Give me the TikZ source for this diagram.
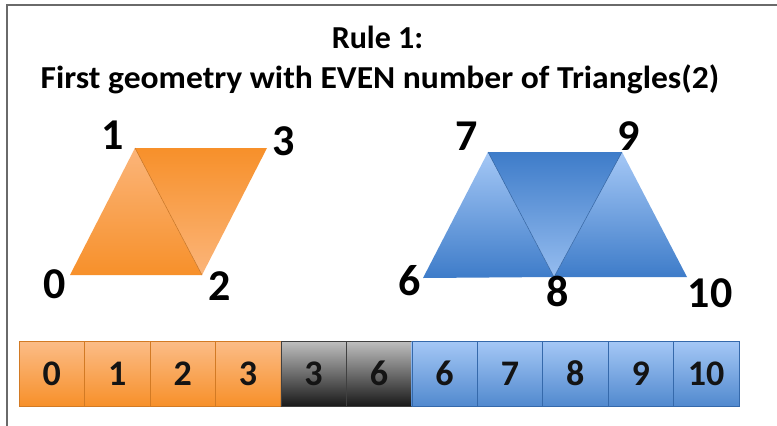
\documentclass[tikz,border=0pt]{standalone}
\usepackage{fontspec}
\setmainfont{Carlito}
\begin{document}
\begin{tikzpicture}[x=1pt,y=-1pt,
  lbl/.style={font=\fontsize{44}{44}\selectfont\bfseries, inner sep=0pt},
  celltxt/.style={font=\fontsize{36}{36}\selectfont\bfseries, inner sep=0pt, text=black!92},
  ttl/.style={font=\fontsize{32}{32}\selectfont\bfseries, inner sep=0pt, anchor=base},
]
\definecolor{orL}{HTML}{FBB57A}
\definecolor{orD}{HTML}{F7902A}
\definecolor{blL}{HTML}{A5C8F6}
\definecolor{blD}{HTML}{3E7CC9}
\definecolor{bdr}{HTML}{6A6A6A}
\useasboundingbox (0,0) rectangle (777,426);
\fill[white] (0,0) rectangle (777,426);
% frame
\draw[bdr, line width=2pt] (7,426) -- (7,5) -- (777,5);
% title
\node[ttl] (t1) at (377.5,48) {Rule 1:};
\node[ttl, xscale=1.05] (t2) at (380,88) {First geometry with EVEN number of Triangles(2)};
% left parallelogram
\coordinate (v0) at (70,275);
\coordinate (v1) at (135,148);
\coordinate (v2) at (202,275);
\coordinate (v3) at (267,148);
\path[top color=orL, bottom color=orD] (v0) -- (v1) -- (v2) -- cycle;
\path[top color=orD, bottom color=orL] (v1) -- (v3) -- (v2) -- cycle;
\draw[orD!80!black, line width=0.5pt] (v1) -- (v2);
\node[lbl] (l0) at (55,284) {0};
\node[lbl] (l1) at (113,135.5) {1};
\node[lbl] (l2) at (220,286) {2};
\node[lbl] (l3) at (283.5,141.5) {3};
% right trapezoid
\coordinate (v6) at (423,278);
\coordinate (v7) at (488,152);
\coordinate (v8) at (554,277);
\coordinate (v9) at (622,152);
\coordinate (v10) at (687,277);
\path[top color=blL, bottom color=blD] (v6) -- (v7) -- (v8) -- cycle;
\path[top color=blL, bottom color=blD] (v8) -- (v9) -- (v10) -- cycle;
\path[top color=blD, bottom color=blL!85!blD] (v7) -- (v9) -- (v8) -- cycle;
\draw[blD!80!black, line width=0.5pt] (v7) -- (v8) -- (v9);
\node[lbl] (l6) at (409.5,281) {6};
\node[lbl] (l7) at (466.5,136.5) {7};
\node[lbl] (l8) at (557.5,291) {8};
\node[lbl] (l9) at (628.5,136.5) {9};
\node[lbl] (l10) at (710,293.5) {10};
% bar
\def\cw{65.45}
\foreach \t [count=\i from 0] in {0,1,2,3}{
  \path[top color=orL!90!white, bottom color=orD, draw=orD!85!black, line width=0.4pt]
    ({19+\i*\cw},341) rectangle ({19+(\i+1)*\cw},406);
  \node[celltxt] (c\i) at ({19+(\i+0.5)*\cw},373.5) {\t};
}
\foreach \t [count=\i from 4] in {3,6}{
  \path[top color=black!25, bottom color=black!90, draw=black!75, line width=0.4pt]
    ({19+\i*\cw},341) rectangle ({19+(\i+1)*\cw},406);
  \node[celltxt] (c\i) at ({19+(\i+0.5)*\cw},373.5) {\t};
}
\foreach \t [count=\i from 6] in {6,7,8,9,10}{
  \path[top color=blL, bottom color=blD!90!white, draw=blD!85!black, line width=0.4pt]
    ({19+\i*\cw},341) rectangle ({19+(\i+1)*\cw},406);
  \node[celltxt] (c\i) at ({19+(\i+0.5)*\cw},373.5) {\t};
}
\end{tikzpicture}
\end{document}
